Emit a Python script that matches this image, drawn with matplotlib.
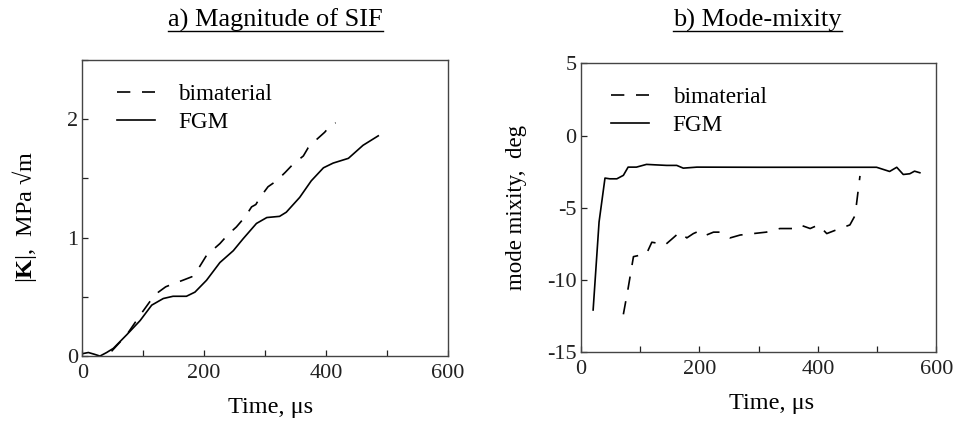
import numpy as np
import matplotlib
matplotlib.use("Agg")
import matplotlib.pyplot as plt
from matplotlib.ticker import MultipleLocator
from matplotlib.lines import Line2D

plt.rcParams['font.family'] = ['Liberation Serif', 'DejaVu Serif']
plt.rcParams['mathtext.fontset'] = 'custom'
plt.rcParams['mathtext.rm'] = 'Liberation Serif'
plt.rcParams['mathtext.bf'] = 'Liberation Serif:bold'
plt.rcParams['axes.unicode_minus'] = False

# ---- a) magnitude of SIF
t_fgm_a = [0, 10, 20, 29, 40, 51, 73, 95, 114, 133, 149, 171, 185, 204, 226, 248,
           264, 286, 303, 324, 335, 357, 376, 396, 412, 437, 461, 486]
k_fgm_a = [0.02, 0.03, 0.015, 0.0, 0.03, 0.065, 0.18, 0.30, 0.43, 0.486, 0.505,
           0.505, 0.54, 0.64, 0.79, 0.89, 0.99, 1.12, 1.17, 1.18, 1.215, 1.34, 1.48,
           1.59, 1.63, 1.67, 1.78, 1.86]
t_bim_a = [48, 73, 97, 111, 125, 137, 149, 165, 180, 192, 204, 226, 240, 253, 268,
           278, 285, 292, 305, 319, 333, 346, 363, 371, 385, 398, 408, 416]
k_bim_a = [0.04, 0.18, 0.36, 0.46, 0.54, 0.585, 0.61, 0.64, 0.67, 0.75, 0.85, 0.95,
           1.03, 1.09, 1.18, 1.26, 1.28, 1.34, 1.43, 1.48, 1.55, 1.62, 1.69, 1.76,
           1.83, 1.89, 1.95, 1.97]

# ---- b) mode mixity
t_fgm_b = [21, 31, 41, 49, 61, 72, 80, 94, 111, 125, 145, 162, 173, 196, 300, 400,
           499, 521, 533, 544, 555, 563, 572]
m_fgm_b = [-12.1, -6.0, -2.95, -3.0, -3.0, -2.76, -2.19, -2.19, -2.0, -2.03, -2.07,
           -2.07, -2.26, -2.19, -2.2, -2.2, -2.2, -2.49, -2.2, -2.7, -2.65, -2.47, -2.58]
t_bim_b = [72, 80, 89, 100, 111, 120, 134, 142, 156, 167, 179, 190, 201, 212, 224,
           235, 252, 269, 291, 313, 336, 358, 370, 387, 401, 415, 437, 454, 462, 465, 471]
m_bim_b = [-12.4, -10.6, -8.4, -8.3, -8.2, -7.4, -7.5, -7.6, -7.1, -6.7, -7.1, -6.8,
           -6.6, -6.9, -6.7, -6.7, -7.1, -6.9, -6.8, -6.7, -6.45, -6.45, -6.2, -6.45,
           -6.2, -6.8, -6.45, -6.2, -5.6, -4.8, -2.8]

fig = plt.figure(figsize=(9.59, 4.29), dpi=100)
ax1 = fig.add_axes([0.0858, 0.170, 0.381, 0.690])
ax2 = fig.add_axes([0.6055, 0.180, 0.371, 0.672])

dash = (0, (8, 7))
for ax in (ax1, ax2):
    for s in ax.spines.values():
        s.set_color('#444444')
        s.set_linewidth(1.0)
    ax.tick_params(which='both', direction='in', length=4, width=0.9,
                   labelsize=16, top=False, right=False, colors='#222222')
    ax.tick_params(axis='y', pad=3)
    ax.tick_params(axis='x', pad=6)

ax1.plot(t_bim_a, k_bim_a, color='black', lw=1.2, ls=dash, label='bimaterial')
ax1.plot(t_fgm_a, k_fgm_a, color='black', lw=1.2, label='FGM')
ax1.set_xlim(0, 600)
ax1.set_ylim(0, 2.5)
ax1.xaxis.set_major_locator(MultipleLocator(200))
ax1.xaxis.set_minor_locator(MultipleLocator(100))
ax1.set_yticks([0, 1, 2])
ax1.yaxis.set_minor_locator(MultipleLocator(0.5))

ax2.plot(t_bim_b, m_bim_b, color='black', lw=1.2, ls=dash, label='bimaterial')
ax2.plot(t_fgm_b, m_fgm_b, color='black', lw=1.2, label='FGM')
ax2.set_xlim(0, 600)
ax2.set_ylim(-15, 5)
ax2.xaxis.set_major_locator(MultipleLocator(200))
ax2.xaxis.set_minor_locator(MultipleLocator(100))
ax2.set_yticks([-15, -10, -5, 0, 5])

for ax, anchor in ((ax1, (0.05, 0.975)), (ax2, (0.04, 0.975))):
    ax.legend(loc='upper left', frameon=False, fontsize=16.7, handlelength=1.65,
              handletextpad=1.0, labelspacing=0.3, borderaxespad=0.3,
              bbox_to_anchor=anchor)

fig.text(0.282, 0.049, 'Time, μs', ha='center', va='center', fontsize=17.5)
fig.text(0.805, 0.060, 'Time, μs', ha='center', va='center', fontsize=17.5)
fig.text(0.026, 0.494, r'$|\mathbf{K}|$,  MPa √m', ha='center', va='center',
         rotation=90, fontsize=17.5)
fig.text(0.539, 0.517, 'mode mixity,  deg', ha='center', va='center',
         rotation=90, fontsize=16.5)

titles = [fig.text(0.287, 0.953, 'a) Magnitude of SIF', ha='center', va='center', fontsize=19),
          fig.text(0.790, 0.953, 'b) Mode-mixity', ha='center', va='center', fontsize=19)]
fig.canvas.draw()
r = fig.canvas.get_renderer()
for t in titles:
    bb = t.get_window_extent(r).transformed(fig.transFigure.inverted())
    fig.add_artist(Line2D([bb.x0, bb.x1], [bb.y0 + 0.002, bb.y0 + 0.002],
                          transform=fig.transFigure, color='black', lw=1.0))

fig.savefig('out.png', dpi=100)
